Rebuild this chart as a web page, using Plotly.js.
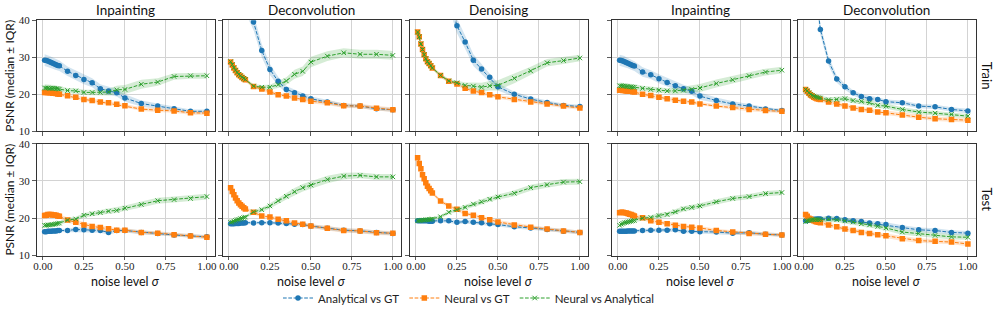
<!DOCTYPE html>
<html>
<head>
<meta charset="utf-8">
<script src="https://cdn.plot.ly/plotly-3.0.1.min.js"></script>
<style>html,body{margin:0;padding:0;background:#fff;}#chart{width:997px;height:318px;}</style>
</head>
<body>
<div id="chart"></div>
<script>
// ---------------- DATA ----------------
const sigma = [0.01,0.02,0.03,0.04,0.05,0.06,0.07,0.08,0.09,0.10,0.15,0.20,0.25,0.30,0.35,0.40,0.45,0.50,0.60,0.70,0.80,0.90,1.00];
const xTickVals = [0, 0.25, 0.5, 0.75, 1.0];
const xTickText = ["0.00","0.25","0.50","0.75","1.00"];
const yTickVals = [10, 20, 30, 40];
const yTickText = ["10","20","30","40"];
const panelTitles = ["Inpainting","Deconvolution","Denoising","Inpainting","Deconvolution"];
const rowLabels = ["Train","Test"];
const seriesNames = ["Analytical vs GT","Neural vs GT","Neural vs Analytical"];

// Train row
const trainInpA  = [29.2,29.1,29.0,28.8,28.6,28.4,28.2,28.0,27.8,27.7, 26.2,25.1,24.0,23.1,21.5,20.9,20.4,19.0, 17.5,16.8,16.1,15.4,15.4];
const trainInpN  = [20.5,20.5,20.5,20.4,20.4,20.3,20.3,20.2,20.1,20.0, 19.6,19.2,18.6,18.3,17.9,17.7,17.3,16.9, 16.0,15.7,15.5,15.0,14.9];
const trainInpNA = [21.7,21.7,21.7,21.6,21.6,21.6,21.6,21.5,21.5,21.4, 21.0,20.9,20.5,20.5,20.5,20.6,21.2,21.3, 22.7,23.3,24.8,25.0,25.0];
const trainInpA_iqr  = [1.6,1.6,1.6,1.5,1.5,1.5,1.5,1.4,1.4,1.4, 1.3,1.3,1.3,1.2,1.2,1.1,1.0,1.0, 0.8,0.7,0.6,0.5,0.5];
const trainInpN_iqr  = [0.5,0.5,0.5,0.5,0.5,0.5,0.5,0.5,0.5,0.5, 0.6,0.6,0.6,0.6,0.5,0.5,0.5,0.5, 0.5,0.5,0.5,0.5,0.5];
const trainInpNA_iqr = [1.0,1.0,1.0,0.9,0.9,0.9,0.9,0.9,0.8,0.8, 0.7,0.7,0.7,0.7,0.8,0.9,1.1,1.2, 1.2,1.0,0.9,0.8,0.8];

const trainDecA  = [95,85,77,70,64,59,54,50,47,45, 39.5,31.8,26.7,23.5,21.3,20.4,19.5,18.8, 17.9,17.0,16.8,16.1,15.8];
const trainDecN  = [28.7,27.9,27.1,26.4,25.8,25.3,24.9,24.5,24.2,23.9, 22.1,21.4,20.6,19.9,19.5,19.0,18.6,18.1, 17.7,16.9,16.8,16.2,15.8];
const trainDecNA = [28.8,28.0,27.2,26.5,25.9,25.4,25.0,24.6,24.3,24.0, 22.2,21.9,21.9,22.6,23.6,25.4,26.2,28.7, 30.3,31.2,30.8,30.8,30.5];
const trainDecA_iqr  = [3,3,3,3,3,3,3,3,3,3, 2.2,1.8,1.5,1.2,0.9,0.8,0.7,0.6, 0.6,0.5,0.5,0.5,0.5];
const trainDecN_iqr  = [0.5,0.5,0.5,0.5,0.5,0.5,0.5,0.5,0.5,0.5, 0.5,0.5,0.5,0.5,0.5,0.6,0.6,0.6, 0.6,0.6,0.6,0.6,0.6];
const trainDecNA_iqr = [0.4,0.4,0.4,0.4,0.4,0.4,0.4,0.4,0.4,0.4, 0.5,0.6,0.7,0.9,1.0,1.2,1.3,1.4, 1.3,1.2,1.2,1.2,1.2];

const trainDenA  = [150,130,115,100,90,80,72,66,61,57, 51,46,38.5,34.1,29.2,26.8,24.6,22.0, 20.0,18.7,17.8,17.0,16.7];
const trainDenN  = [36.8,35.5,33.6,32.1,30.7,29.6,28.8,28.3,27.7,27.1, 25.1,23.5,22.8,21.6,20.9,20.5,19.9,19.3, 18.6,17.9,17.4,16.8,16.3];
const trainDenNA = [36.8,35.5,33.6,32.1,30.7,29.6,28.8,28.3,27.7,27.1, 25.1,23.6,23.1,22.4,22.2,21.9,22.3,22.4, 24.3,26.3,28.5,29.1,29.8];
const trainDenA_iqr  = [4,4,4,4,4,4,4,4,4,4, 3.0,2.5,2.0,1.8,1.6,1.4,1.2,1.0, 0.7,0.6,0.5,0.5,0.5];
const trainDenN_iqr  = [0.4,0.4,0.4,0.4,0.4,0.4,0.4,0.4,0.4,0.4, 0.5,0.5,0.5,0.5,0.5,0.5,0.5,0.5, 0.5,0.5,0.5,0.5,0.5];
const trainDenNA_iqr = [0.4,0.4,0.4,0.4,0.4,0.4,0.4,0.4,0.4,0.4, 0.5,0.5,0.6,0.8,1.0,1.2,1.3,1.4, 1.3,1.1,1.0,0.9,0.9];

const trainInp2A  = [29.2,29.1,29.0,28.8,28.6,28.4,28.2,28.0,27.8,27.6, 26.0,25.3,24.2,23.2,22.3,21.5,20.8,19.5, 18.3,17.4,16.8,16.0,15.6];
const trainInp2N  = [21.1,21.1,21.0,21.0,20.9,20.9,20.8,20.8,20.7,20.6, 20.0,19.7,19.2,18.8,18.4,18.1,17.9,17.4, 16.8,16.4,15.9,15.6,15.4];
const trainInp2NA = [22.3,22.3,22.2,22.2,22.1,22.1,22.0,22.0,21.9,21.9, 21.6,21.3,21.1,20.9,20.9,21.1,21.3,21.7, 22.9,23.9,25.0,26.0,26.5];
const trainInp2A_iqr  = [1.5,1.5,1.5,1.5,1.4,1.4,1.4,1.4,1.4,1.3, 1.3,1.2,1.2,1.2,1.1,1.1,1.0,1.0, 0.8,0.7,0.6,0.5,0.5];
const trainInp2N_iqr  = [0.5,0.5,0.5,0.5,0.5,0.5,0.5,0.5,0.5,0.5, 0.6,0.6,0.6,0.6,0.5,0.5,0.5,0.5, 0.5,0.5,0.5,0.5,0.5];
const trainInp2NA_iqr = [0.9,0.9,0.9,0.9,0.9,0.8,0.8,0.8,0.8,0.8, 0.7,0.7,0.7,0.7,0.8,0.9,1.0,1.1, 1.1,1.0,0.9,0.9,0.9];

const trainDec2A  = [120,100,85,73,63,55,49,44.5,40.8,37.5, 29.0,24.1,22.0,20.4,19.4,18.8,18.6,18.0, 17.7,16.8,16.6,15.9,15.5];
const trainDec2N  = [21.3,20.8,20.3,19.8,19.5,19.2,19.0,18.8,18.7,18.6, 17.9,17.4,16.8,16.3,15.9,15.7,15.2,15.0, 14.4,13.8,13.4,13.2,13.0];
const trainDec2NA = [21.3,20.9,20.4,20.0,19.7,19.5,19.3,19.2,19.1,19.0, 18.5,18.6,18.8,18.3,18.1,17.7,17.0,16.8, 15.9,15.2,14.9,14.6,14.1];
const trainDec2A_iqr  = [2,2,2,2,2,2,2,2,1.8,1.5, 1.2,1.0,0.8,0.7,0.7,0.7,0.6,0.6, 0.6,0.6,0.6,0.6,0.6];
const trainDec2N_iqr  = [0.6,0.6,0.6,0.6,0.6,0.6,0.6,0.6,0.6,0.6, 0.6,0.6,0.6,0.6,0.6,0.6,0.6,0.6, 0.6,0.6,0.6,0.6,0.6];
const trainDec2NA_iqr = [0.6,0.6,0.6,0.6,0.6,0.6,0.6,0.6,0.6,0.6, 0.7,0.7,0.7,0.7,0.7,0.7,0.7,0.7, 0.6,0.6,0.6,0.6,0.6];

// Test row
const testInpA  = [16.4,16.4,16.5,16.5,16.5,16.6,16.6,16.6,16.7,16.7, 16.7,17.0,16.9,16.8,16.7,16.2,16.7,16.7, 16.2,15.9,15.5,15.3,15.0];
const testInpN  = [20.7,20.8,21.0,21.0,21.0,20.9,20.9,20.8,20.6,20.5, 19.5,18.9,18.2,17.8,17.5,17.2,16.8,16.8, 16.2,16.0,15.6,15.2,14.9];
const testInpNA = [18.1,18.1,18.2,18.2,18.3,18.3,18.4,18.5,18.6,18.7, 19.5,19.8,20.8,21.2,21.5,21.9,22.1,22.7, 23.7,24.7,25.0,25.3,25.8];
const testInpA_iqr  = [0.4,0.4,0.4,0.4,0.4,0.4,0.4,0.4,0.4,0.4, 0.5,0.6,0.6,0.6,0.6,0.6,0.5,0.5, 0.5,0.5,0.5,0.5,0.5];
const testInpN_iqr  = [0.6,0.6,0.6,0.6,0.6,0.6,0.6,0.6,0.6,0.6, 0.7,0.7,0.6,0.6,0.6,0.6,0.5,0.5, 0.5,0.5,0.5,0.5,0.5];
const testInpNA_iqr = [0.5,0.5,0.5,0.5,0.5,0.5,0.5,0.5,0.5,0.5, 0.6,0.6,0.6,0.6,0.7,0.7,0.7,0.7, 0.8,0.8,0.8,0.8,0.8];

const testDecA  = [18.5,18.5,18.5,18.6,18.6,18.6,18.7,18.7,18.7,18.8, 18.7,18.8,18.8,18.7,18.6,18.4,18.3,17.9, 17.3,16.8,16.6,16.2,15.9];
const testDecN  = [28.2,27.2,26.3,25.4,24.7,24.1,23.6,23.2,22.8,22.5, 21.6,20.6,20.3,19.7,19.3,18.7,18.4,17.9, 17.3,16.7,16.6,16.1,16.0];
const testDecNA = [18.9,19.0,19.2,19.4,19.6,19.7,19.9,20.0,20.2,20.3, 21.7,22.3,23.3,24.7,25.9,27.1,28.2,28.9, 30.4,31.3,31.5,31.1,31.1];
const testDecA_iqr  = [0.4,0.4,0.4,0.4,0.4,0.4,0.4,0.4,0.4,0.4, 0.4,0.4,0.4,0.4,0.5,0.5,0.5,0.5, 0.5,0.5,0.5,0.5,0.5];
const testDecN_iqr  = [0.5,0.5,0.5,0.5,0.5,0.5,0.5,0.5,0.5,0.5, 0.5,0.5,0.5,0.5,0.5,0.5,0.5,0.5, 0.6,0.6,0.6,0.6,0.6];
const testDecNA_iqr = [0.4,0.4,0.4,0.4,0.4,0.4,0.4,0.4,0.4,0.4, 0.5,0.6,0.7,0.8,0.9,1.0,1.0,1.0, 1.0,0.9,0.8,0.8,0.8];

const testDenA  = [19.3,19.3,19.3,19.3,19.3,19.3,19.3,19.2,19.2,19.2, 19.3,19.3,18.9,19.1,18.9,18.8,18.5,18.3, 17.7,17.4,17.0,16.5,16.2];
const testDenN  = [36.2,34.7,33.3,31.7,30.6,29.5,28.6,28.0,27.4,26.8, 24.6,23.3,22.4,21.3,20.8,20.1,19.6,19.0, 18.2,17.6,17.1,16.6,16.2];
const testDenNA = [19.3,19.4,19.4,19.5,19.5,19.6,19.6,19.7,19.7,19.8, 20.4,21.6,22.3,22.9,23.8,24.4,25.1,25.7, 26.7,28.2,29.0,29.7,29.8];
const testDenA_iqr  = [0.4,0.4,0.4,0.4,0.4,0.4,0.4,0.4,0.4,0.4, 0.5,0.5,0.5,0.5,0.5,0.5,0.5,0.5, 0.5,0.5,0.5,0.5,0.5];
const testDenN_iqr  = [0.4,0.4,0.4,0.4,0.4,0.4,0.4,0.4,0.4,0.4, 0.5,0.5,0.5,0.5,0.5,0.5,0.5,0.5, 0.5,0.5,0.5,0.5,0.5];
const testDenNA_iqr = [0.4,0.4,0.4,0.4,0.4,0.4,0.4,0.4,0.4,0.4, 0.5,0.5,0.6,0.6,0.7,0.7,0.7,0.7, 0.8,0.8,0.8,0.8,0.8];

const testInp2A  = [16.5,16.5,16.5,16.5,16.5,16.6,16.6,16.6,16.6,16.6, 16.7,16.8,16.8,16.8,16.9,16.5,16.5,16.4, 16.3,16.0,16.1,15.7,15.5];
const testInp2N  = [21.5,21.6,21.6,21.5,21.4,21.3,21.1,21.0,20.8,20.6, 20.1,19.3,18.9,18.5,18.1,17.8,17.6,17.4, 16.7,16.3,15.9,15.7,15.5];
const testInp2NA = [18.1,18.4,18.6,18.8,18.9,19.0,19.1,19.2,19.3,19.4, 20.0,20.2,20.7,21.0,21.7,22.5,22.9,23.3, 24.4,25.3,25.8,26.6,26.9];
const testInp2A_iqr  = [0.4,0.4,0.4,0.4,0.4,0.4,0.4,0.4,0.4,0.4, 0.5,0.5,0.5,0.5,0.5,0.5,0.5,0.5, 0.5,0.5,0.5,0.5,0.5];
const testInp2N_iqr  = [0.7,0.7,0.7,0.7,0.7,0.7,0.7,0.7,0.7,0.7, 0.6,0.6,0.6,0.6,0.6,0.5,0.5,0.5, 0.5,0.5,0.5,0.5,0.5];
const testInp2NA_iqr = [0.6,0.6,0.6,0.6,0.6,0.6,0.6,0.6,0.6,0.6, 0.6,0.6,0.7,0.7,0.7,0.7,0.7,0.7, 0.7,0.7,0.7,0.7,0.7];

const testDec2A  = [19.3,19.4,19.5,19.6,19.6,19.7,19.7,19.8,19.8,19.8, 20.0,19.9,19.6,19.3,19.1,18.7,18.5,18.3, 17.5,16.9,16.7,16.2,16.0];
const testDec2N  = [21.0,20.5,20.0,19.8,19.5,19.3,19.1,19.0,18.9,18.8, 18.2,17.7,17.1,16.7,16.2,15.9,15.6,15.3, 14.5,14.0,13.8,13.6,13.1];
const testDec2NA = [19.1,19.3,19.4,19.5,19.6,19.6,19.6,19.6,19.6,19.6, 19.8,19.6,19.3,19.0,18.5,18.2,17.8,17.4, 16.3,15.9,15.4,15.0,14.9];
const testDec2A_iqr  = [0.6,0.6,0.6,0.6,0.6,0.6,0.6,0.6,0.6,0.6, 0.6,0.6,0.6,0.6,0.6,0.6,0.6,0.6, 0.6,0.6,0.6,0.6,0.6];
const testDec2N_iqr  = [0.6,0.6,0.6,0.6,0.6,0.6,0.6,0.6,0.6,0.6, 0.6,0.6,0.6,0.6,0.6,0.6,0.6,0.6, 0.6,0.6,0.6,0.6,0.6];
const testDec2NA_iqr = [0.6,0.6,0.6,0.6,0.6,0.6,0.6,0.6,0.6,0.6, 0.7,0.7,0.7,0.7,0.7,0.7,0.7,0.7, 0.7,0.7,0.7,0.7,0.7];

// ---------------- BUILD ----------------
const panels = [
  [[trainInpA,trainInpA_iqr],[trainInpN,trainInpN_iqr],[trainInpNA,trainInpNA_iqr]],
  [[trainDecA,trainDecA_iqr],[trainDecN,trainDecN_iqr],[trainDecNA,trainDecNA_iqr]],
  [[trainDenA,trainDenA_iqr],[trainDenN,trainDenN_iqr],[trainDenNA,trainDenNA_iqr]],
  [[trainInp2A,trainInp2A_iqr],[trainInp2N,trainInp2N_iqr],[trainInp2NA,trainInp2NA_iqr]],
  [[trainDec2A,trainDec2A_iqr],[trainDec2N,trainDec2N_iqr],[trainDec2NA,trainDec2NA_iqr]],
  [[testInpA,testInpA_iqr],[testInpN,testInpN_iqr],[testInpNA,testInpNA_iqr]],
  [[testDecA,testDecA_iqr],[testDecN,testDecN_iqr],[testDecNA,testDecNA_iqr]],
  [[testDenA,testDenA_iqr],[testDenN,testDenN_iqr],[testDenNA,testDenNA_iqr]],
  [[testInp2A,testInp2A_iqr],[testInp2N,testInp2N_iqr],[testInp2NA,testInp2NA_iqr]],
  [[testDec2A,testDec2A_iqr],[testDec2N,testDec2N_iqr],[testDec2NA,testDec2NA_iqr]]
];

const W = 997, H = 318;
const colPx = [[36.5,215],[222.5,401],[409.5,588],[611.5,790],[797.5,976]];
const rowPx = [[20.2,131.3],[143.7,255.5]];
const colors = ['#1f77b4','#ff7f0e','#2ca02c'];
const bands = ['rgba(31,119,180,0.2)','rgba(255,127,14,0.2)','rgba(44,160,44,0.2)'];
const markerDefs = [
  {symbol:'circle', size:5.5, color:'#1f77b4', line:{width:0}},
  {symbol:'square', size:5.5, color:'#ff7f0e', line:{width:0}},
  {symbol:'x-thin', size:4.5, color:'#2ca02c', line:{width:1, color:'#2ca02c'}}
];
const DASH = '3.7px,1.6px';
const sansFont = 'Lato, "DejaVu Sans", sans-serif';
const serifFont = '"Liberation Serif", "DejaVu Serif", serif';

const data = [];
const layout = {
  width: W, height: H,
  margin: {l:0, r:0, t:0, b:0},
  paper_bgcolor: '#fff', plot_bgcolor: '#fff',
  showlegend: true,
  legend: {orientation:'h', x: 278/W, xanchor:'left', y: 1-298/H, yanchor:'middle',
           font:{family:sansFont, size:11.5, color:'#222'}, bgcolor:'rgba(0,0,0,0)', itemwidth:30},
  annotations: [],
  font: {family: sansFont}
};

for (let r = 0; r < 2; r++) {
  for (let c = 0; c < 5; c++) {
    const idx = r*5 + c + 1;
    const xn = idx === 1 ? 'x' : 'x' + idx;
    const yn = idx === 1 ? 'y' : 'y' + idx;
    const xk = idx === 1 ? 'xaxis' : 'xaxis' + idx;
    const yk = idx === 1 ? 'yaxis' : 'yaxis' + idx;
    const xd = [colPx[c][0]/W, colPx[c][1]/W];
    const yd = [1 - rowPx[r][1]/H, 1 - rowPx[r][0]/H];
    layout[xk] = {
      domain: xd, anchor: yn, range: [-0.0395, 1.0495],
      tickmode: 'array', tickvals: xTickVals, ticktext: xTickText,
      showticklabels: r === 1, ticklabelstandoff: -3,
      ticks: 'outside', ticklen: 3.5, tickwidth: 0.8, tickcolor: '#333',
      showline: true, linecolor: '#333', linewidth: 1, mirror: true,
      showgrid: true, gridcolor: '#d3d3d3', gridwidth: 1, zeroline: false,
      tickfont: {family: serifFont, size: 11, color: '#222'}, fixedrange: true
    };
    layout[yk] = {
      domain: yd, anchor: xn, range: [10, 40],
      tickmode: 'array', tickvals: yTickVals, ticktext: yTickText,
      showticklabels: c === 0,
      ticks: 'outside', ticklen: 3.5, tickwidth: 0.8, tickcolor: '#333',
      showline: true, linecolor: '#333', linewidth: 1, mirror: true,
      showgrid: true, gridcolor: '#d3d3d3', gridwidth: 1, zeroline: false,
      tickfont: {family: serifFont, size: 11, color: '#222'}, fixedrange: true
    };
    const p = panels[idx-1];
    for (let s = 0; s < 3; s++) {
      const med = p[s][0], iq = p[s][1];
      data.push({type:'scatter', mode:'lines', x: sigma, y: med.map((v,i)=>v+iq[i]),
        xaxis: xn, yaxis: yn, line:{width:0, color: bands[s]}, showlegend:false, hoverinfo:'skip'});
      data.push({type:'scatter', mode:'lines', x: sigma, y: med.map((v,i)=>v-iq[i]),
        xaxis: xn, yaxis: yn, line:{width:0, color: bands[s]}, fill:'tonexty', fillcolor: bands[s],
        showlegend:false, hoverinfo:'skip'});
    }
    for (let s = 0; s < 3; s++) {
      data.push({type:'scatter', mode:'lines+markers', x: sigma, y: p[s][0],
        xaxis: xn, yaxis: yn, name: seriesNames[s],
        line:{color: colors[s], width:1, dash: DASH}, marker: markerDefs[s],
        showlegend: idx === 1, legendgroup: 's'+s});
    }
    if (r === 0) {
      layout.annotations.push({xref:'paper', yref:'paper', x:(xd[0]+xd[1])/2, y:1-9.5/H,
        xanchor:'center', yanchor:'middle', showarrow:false, text: panelTitles[c],
        font:{family:sansFont, size:13.5, color:'#111'}});
    } else {
      layout.annotations.push({xref:'paper', yref:'paper', x:(xd[0]+xd[1])/2, y:1-281/H,
        xanchor:'center', yanchor:'middle', showarrow:false, text: 'noise level <i>σ</i>',
        font:{family:sansFont, size:12.5, color:'#111'}});
    }
  }
  const yc = 1 - (rowPx[r][0]+rowPx[r][1])/2/H;
  layout.annotations.push({xref:'paper', yref:'paper', x:10/W, y:yc, xanchor:'center', yanchor:'middle',
    showarrow:false, textangle:-90, text:'PSNR (median ± IQR)', font:{family:sansFont, size:12, color:'#111'}});
  layout.annotations.push({xref:'paper', yref:'paper', x:987/W, y:yc, xanchor:'center', yanchor:'middle',
    showarrow:false, textangle:90, text: rowLabels[r], font:{family:sansFont, size:13, color:'#111'}});
}

Plotly.newPlot('chart', data, layout, {staticPlot:true, displayModeBar:false});
</script>
</body>
</html>
